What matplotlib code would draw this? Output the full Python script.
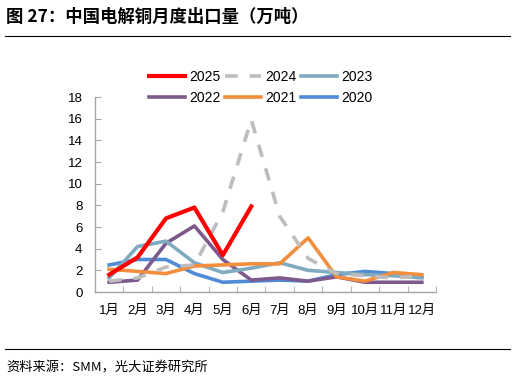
import matplotlib.pyplot as plt
import numpy as np
from matplotlib.lines import Line2D

plt.rcParams['font.family'] = ['Liberation Sans', 'Noto Sans CJK SC']

months = ['1月', '2月', '3月', '4月', '5月', '6月', '7月', '8月', '9月', '10月', '11月', '12月']

y2025 = [1.6, 3.2, 6.8, 7.8, 3.4, 7.9]
y2024 = [1.0, 1.3, 2.3, 2.5, 7.4, 15.9, 7.0, 3.1, 1.7, 1.5, 1.3, 1.5]
y2023 = [1.3, 4.2, 4.7, 2.7, 1.8, 2.2, 2.7, 2.0, 1.8, 1.6, 1.5, 1.3]
y2022 = [0.9, 1.1, 4.5, 6.1, 3.0, 1.1, 1.3, 1.0, 1.4, 0.9, 0.9, 0.9]
y2021 = [2.1, 1.9, 1.7, 2.4, 2.5, 2.6, 2.6, 5.0, 1.4, 1.0, 1.8, 1.6]
y2020 = [2.5, 3.0, 3.0, 1.7, 0.9, 1.0, 1.1, 1.0, 1.6, 1.9, 1.7, 1.4]

c2025 = '#FF0000'
c2024 = '#BDBDBD'
c2023 = '#80AAC0'
c2022 = '#7E5A8C'
c2021 = '#F28E3C'
c2020 = '#4F8BD6'

fig = plt.figure(figsize=(5.16, 3.82), dpi=100)
ax = fig.add_axes([0.184, 0.2356, 0.661, 0.5104])

x = np.arange(len(months))
lw = 2.6
dash = (0, (3.5, 3.3))
ax.plot(x, y2020, color=c2020, lw=lw, zorder=2)
ax.plot(x, y2021, color=c2021, lw=lw, zorder=3)
ax.plot(x, y2022, color=c2022, lw=lw, zorder=2)
ax.plot(x, y2023, color=c2023, lw=lw, zorder=2)
ax.plot(x, y2024, color=c2024, lw=lw, ls=dash, zorder=4)
ax.plot(x[:len(y2025)], y2025, color=c2025, lw=3.0, zorder=5)

ax.set_xlim(-0.5, 11.5)
ax.set_ylim(0, 18)
ax.set_yticks(range(0, 19, 2))
ax.set_xticks(x)
ax.set_xticklabels(months)
ax.set_xticks(np.arange(-0.5, 12, 1), minor=True)
ax.tick_params(axis='x', which='major', length=0, labelsize=9.5, pad=9)
ax.tick_params(axis='x', which='minor', direction='in', length=4, color='#A6A6A6')
ax.tick_params(axis='y', direction='in', length=4, color='#A6A6A6', labelsize=9.5, pad=9)
for s in ['top', 'right']:
    ax.spines[s].set_visible(False)
for s in ['left', 'bottom']:
    ax.spines[s].set_color('#A6A6A6')
    ax.spines[s].set_linewidth(1.0)

handles = [
    Line2D([], [], color=c2025, lw=3.0),
    Line2D([], [], color=c2022, lw=lw),
    Line2D([], [], color=c2024, lw=lw, ls=dash),
    Line2D([], [], color=c2021, lw=lw),
    Line2D([], [], color=c2023, lw=lw),
    Line2D([], [], color=c2020, lw=lw),
]
labels = ['2025', '2022', '2024', '2021', '2023', '2020']
fig.legend(handles, labels, ncol=3, loc='center', bbox_to_anchor=(0.505, 0.771),
           frameon=False, fontsize=10, handlelength=2.6, handletextpad=0.3,
           columnspacing=0.3, labelspacing=0.45)

fig.text(0.012, 0.955, '图 27：中国电解铜月度出口量（万吨）', fontsize=12.5, fontweight='bold',
         family=['Noto Sans CJK SC'], va='center', ha='left')
fig.add_artist(Line2D([0.01, 0.988], [0.906, 0.906], color='black', lw=0.8))
fig.add_artist(Line2D([0.01, 0.988], [0.086, 0.086], color='black', lw=0.8))
fig.text(0.012, 0.036, '资料来源：SMM，光大证券研究所', fontsize=9.5,
         family=['Noto Sans CJK SC'], va='center', ha='left')

fig.savefig('out.png', dpi=100)
